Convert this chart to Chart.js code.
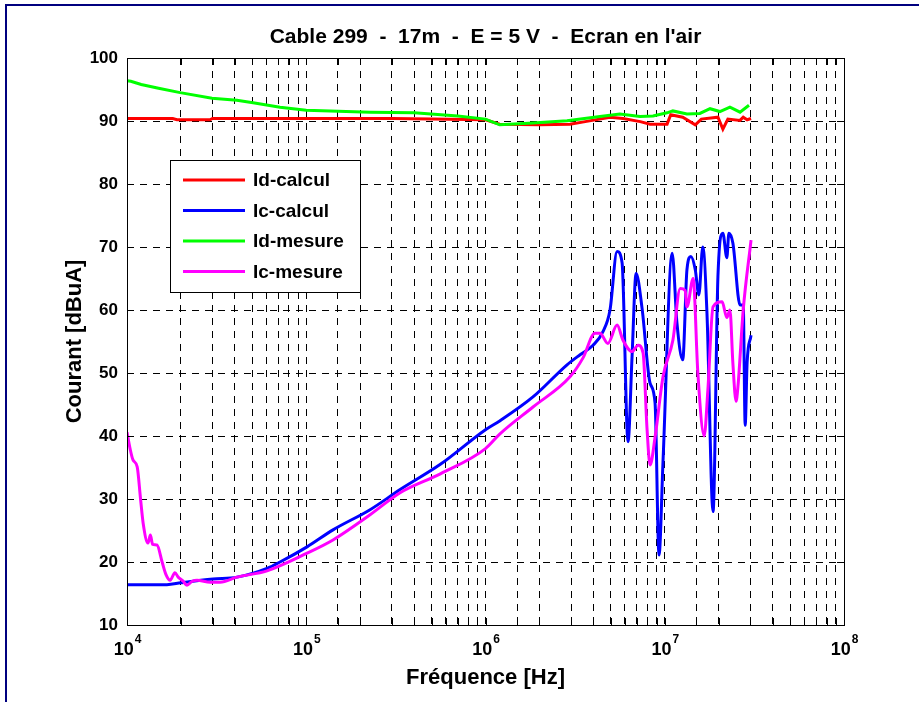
<!DOCTYPE html>
<html>
<head>
<meta charset="utf-8">
<script src="https://cdn.jsdelivr.net/npm/chart.js@4.4.1/dist/chart.umd.min.js"></script>
<style>
  html, body { margin: 0; padding: 0; background: #fff; }
  #wrap { position: relative; width: 919px; height: 702px; overflow: hidden; }
  #frame { position: absolute; left: 5px; top: 4px; right: -5px; bottom: -5px;
           border-left: 2px solid #00007f; border-top: 2px solid #00007f; pointer-events: none; }
  canvas { position: absolute; left: 0; top: 0; }
</style>
</head>
<body>
<div id="wrap">
  <canvas id="chart" width="919" height="702"></canvas>
  <div id="frame"></div>
</div>
<script>
// Données (fréquence en Hz, courant en dBuA)
const idCalculF = [1.0e4, 1.8e4, 1.9e4, 2.9e4, 3.0e4, 1.0e5, 3.0e5, 5.0e5, 1.0e6, 1.2e6,
                   2.0e6, 2.96e6, 3.6e6, 4.95e6, 5.85e6, 7.3e6, 8.28e6, 1.03e7, 1.08e7, 1.26e7,
                   1.48e7, 1.6e7, 1.98e7, 2.11e7, 2.25e7, 2.63e7, 2.74e7, 2.88e7, 3.03e7];
const idCalculV = [90.4, 90.4, 90.2, 90.2, 90.4, 90.4, 90.4, 90.3, 90.2, 89.5,
                   89.4, 89.5, 89.9, 90.6, 90.4, 89.9, 89.5, 89.5, 91.0, 90.6,
                   89.4, 90.3, 90.6, 88.7, 90.3, 90.1, 90.6, 90.2, 90.4];

const icCalculF = [1.0e4, 1.67e4, 2.0e4, 3.02e4, 4.11e4, 6.04e4, 7.14e4, 1.01e5, 1.41e5, 2.27e5,
                   3.34e5, 5.6e5, 1.0e6, 1.2e6, 1.84e6, 2.85e6, 3.37e6, 3.98e6, 4.53e6, 4.95e6,
                   5.42e6, 5.78e6, 6.24e6, 6.57e6, 6.92e6, 7.47e6, 8.28e6, 8.83e6, 9.29e6, 9.78e6,
                   1.10e7, 1.17e7, 1.26e7, 1.33e7, 1.40e7, 1.48e7, 1.55e7, 1.63e7, 1.72e7, 1.86e7,
                   1.98e7, 2.11e7, 2.22e7, 2.28e7, 2.40e7, 2.63e7, 2.74e7, 2.81e7, 2.88e7, 3.03e7];
const icCalculV = [16.4, 16.4, 16.7, 17.3, 17.6, 19.0, 20.0, 22.4, 25.1, 28.3,
                   31.5, 35.5, 41.0, 42.4, 46.2, 51.3, 52.9, 54.4, 56.6, 60.0,
                   69.3, 67.5, 39.1, 52.6, 65.8, 60.3, 48.4, 45.2, 21.1, 36.0,
                   69.0, 57.9, 52.1, 66.4, 68.5, 66.4, 62.4, 70.0, 59.5, 28.0,
                   65.3, 72.2, 68.3, 72.2, 70.6, 60.8, 60.8, 41.7, 51.6, 56.0];

const idMesureF = [1.0e4, 1.05e4, 1.2e4, 1.5e4, 1.98e4, 2.98e4, 4.1e4, 5.05e4, 7.14e4, 1.0e5,
                   2.27e5, 4.0e5, 7.0e5, 1.0e6, 1.2e6, 1.84e6, 2.85e6, 4.35e6, 5.62e6, 7.28e6,
                   8.6e6, 1.03e7, 1.11e7, 1.33e7, 1.57e7, 1.79e7, 2.03e7, 2.31e7, 2.63e7, 2.95e7];
const idMesureV = [96.4, 96.3, 95.8, 95.2, 94.5, 93.6, 93.3, 92.9, 92.2, 91.7,
                   91.4, 91.3, 90.8, 90.3, 89.4, 89.7, 90.05, 90.7, 91.1, 90.7,
                   90.8, 91.3, 91.6, 91.1, 91.2, 91.95, 91.5, 92.2, 91.4, 92.5];

const icMesureF = [1.0e4, 1.04e4, 1.08e4, 1.14e4, 1.19e4, 1.23e4, 1.31e4, 1.35e4, 1.39e4, 1.47e4,
                   1.57e4, 1.65e4, 1.74e4, 1.85e4, 1.93e4, 2.05e4, 2.16e4, 2.3e4, 2.46e4, 2.91e4,
                   3.31e4, 4.11e4, 6.04e4, 1.01e5, 1.41e5, 2.27e5, 3.34e5, 5.6e5, 1.0e6, 1.2e6,
                   1.84e6, 2.96e6, 3.5e6, 4.08e6, 4.35e6, 4.82e6, 5.42e6, 5.85e6, 6.57e6, 7.10e6,
                   7.57e6, 7.97e6, 8.28e6, 8.83e6, 9.78e6, 1.11e7, 1.22e7, 1.30e7, 1.33e7, 1.44e7,
                   1.53e7, 1.66e7, 1.74e7, 1.86e7, 2.09e7, 2.22e7, 2.31e7, 2.40e7, 2.50e7, 2.56e7,
                   2.74e7, 3.03e7];
const icMesureV = [40.6, 38.0, 36.2, 35.1, 30.0, 26.2, 23.0, 24.3, 22.8, 22.7,
                   20.0, 18.0, 17.1, 18.3, 17.6, 17.0, 16.3, 16.9, 17.1, 16.8,
                   16.8, 17.6, 18.6, 21.4, 23.5, 27.5, 31.0, 34.0, 38.0, 40.3,
                   44.6, 49.4, 52.4, 56.3, 56.3, 54.7, 57.6, 55.2, 53.4, 54.4,
                   53.2, 41.0, 35.4, 39.8, 49.4, 55.2, 63.4, 63.1, 60.5, 65.0,
                   50.0, 40.0, 47.3, 60.5, 61.3, 58.8, 60.0, 51.5, 45.5, 47.8,
                   60.0, 71.1];

const seriesLabels = ['Id-calcul', 'Ic-calcul', 'Id-mesure', 'Ic-mesure'];
const seriesColors = ['#ff0000', '#0000ff', '#00ff00', '#ff00ff'];
const xExponents = [4, 5, 6, 7, 8];
const yTicks = [10, 20, 30, 40, 50, 60, 70, 80, 90, 100];

const chartTitle = "Cable 299  -  17m  -  E = 5 V  -  Ecran en l'air";
const xTitle = 'Fréquence [Hz]';
const yTitle = 'Courant [dBuA]';

const FONT = '"Liberation Sans", Arial, sans-serif';

// Zone de tracé (pixels)
const AREA = { left: 127, top: 58, right: 844, bottom: 625 };

function toPoints(f, v) {
    return f.map((x, i) => ({ x: x, y: v[i] }));
}

// Légende, cadre, titres et graduations dessinés à la main
const decorPlugin = {
    id: 'decor',
    afterDraw(chart) {
        const ctx = chart.ctx;
        const a = chart.chartArea;
        const xs = chart.scales.x, ys = chart.scales.y;
        ctx.save();

        // petites graduations vers l'intérieur
        ctx.strokeStyle = '#000';
        ctx.lineWidth = 1;
        ctx.beginPath();
        xs.ticks.forEach(t => {
            const px = Math.round(xs.getPixelForValue(t.value)) + 0.5;
            ctx.moveTo(px, a.bottom); ctx.lineTo(px, a.bottom - 7);
            ctx.moveTo(px, a.top); ctx.lineTo(px, a.top + 7);
        });
        ys.ticks.forEach(t => {
            const py = Math.round(ys.getPixelForValue(t.value)) + 0.5;
            ctx.moveTo(a.left, py); ctx.lineTo(a.left + 7, py);
            ctx.moveTo(a.right, py); ctx.lineTo(a.right - 7, py);
        });
        ctx.stroke();

        // cadre
        ctx.strokeRect(Math.round(a.left) + 0.5, Math.round(a.top) + 0.5,
                       Math.round(a.right - a.left), Math.round(a.bottom - a.top));

        // étiquettes x en puissances de 10
        ctx.fillStyle = '#000';
        ctx.textBaseline = 'alphabetic';
        ctx.textAlign = 'left';
        xExponents.forEach(e => {
            const px = xs.getPixelForValue(Math.pow(10, e));
            ctx.font = 'bold 18px ' + FONT;
            const w10 = ctx.measureText('10').width;
            ctx.font = 'bold 12px ' + FONT;
            const we = ctx.measureText(String(e)).width;
            const x0 = px - (w10 + we) / 2;
            ctx.font = 'bold 18px ' + FONT;
            ctx.fillText('10', x0, 655);
            ctx.font = 'bold 12px ' + FONT;
            ctx.fillText(String(e), x0 + w10 + 1, 643);
        });

        // titres
        ctx.textAlign = 'center';
        ctx.font = 'bold 21px ' + FONT;
        ctx.fillText(chartTitle, (a.left + a.right) / 2, 43);
        ctx.font = 'bold 22px ' + FONT;
        ctx.fillText(xTitle, (a.left + a.right) / 2, 684);
        ctx.save();
        ctx.translate(81, (a.top + a.bottom) / 2);
        ctx.rotate(-Math.PI / 2);
        ctx.fillText(yTitle, 0, 0);
        ctx.restore();

        // légende
        const lx = 170.5, ly = 160.5, lw = 190, lh = 132;
        ctx.fillStyle = '#fff';
        ctx.fillRect(lx, ly, lw, lh);
        ctx.strokeStyle = '#000';
        ctx.lineWidth = 1;
        ctx.strokeRect(lx, ly, lw, lh);
        ctx.font = 'bold 19px ' + FONT;
        ctx.textAlign = 'left';
        ctx.textBaseline = 'middle';
        chart.data.datasets.forEach((ds, i) => {
            const ry = 180 + i * 30.5;
            ctx.strokeStyle = ds.borderColor;
            ctx.lineWidth = 3;
            ctx.beginPath();
            ctx.moveTo(183, ry);
            ctx.lineTo(245, ry);
            ctx.stroke();
            ctx.fillStyle = '#000';
            ctx.fillText(ds.label, 253, ry + 1);
        });
        ctx.restore();
    }
};

const ctx = document.getElementById('chart').getContext('2d');
const seriesData = [
    toPoints(idCalculF, idCalculV),
    toPoints(icCalculF, icCalculV),
    toPoints(idMesureF, idMesureV),
    toPoints(icMesureF, icMesureV)
];

const datasets = seriesData.map((pts, i) => ({
    label: seriesLabels[i],
    data: pts,
    borderColor: seriesColors[i],
    backgroundColor: seriesColors[i],
    borderWidth: 3,
    pointRadius: 0,
    fill: false,
    tension: 0,
    cubicInterpolationMode: (i % 2 === 1) ? 'monotone' : 'default',
    order: 3 - i
}));

new Chart(ctx, {
    type: 'line',
    data: { datasets: datasets },
    options: {
        responsive: false,
        animation: false,
        devicePixelRatio: 1,
        layout: {
            padding: { left: 0, top: AREA.top, right: 919 - AREA.right, bottom: 0 }
        },
        plugins: {
            legend: { display: false },
            title: { display: false },
            tooltip: { enabled: false }
        },
        scales: {
            x: {
                type: 'logarithmic',
                min: 1e4,
                max: 1e8,
                afterFit: s => { s.height = 702 - AREA.bottom; },
                ticks: { display: false, autoSkip: false },
                grid: {
                    drawTicks: false,
                    color: '#000',
                    lineWidth: 1
                },
                border: { display: false, dash: [7, 6] }
            },
            y: {
                min: 10,
                max: 100,
                afterFit: s => { s.width = AREA.left; },
                afterBuildTicks: s => { s.ticks = yTicks.map(v => ({ value: v })); },
                ticks: {
                    padding: 9,
                    color: '#000',
                    font: { family: FONT, size: 17, weight: 'bold' }
                },
                grid: {
                    drawTicks: false,
                    color: '#000',
                    lineWidth: 1
                },
                border: { display: false, dash: [7, 6] }
            }
        }
    },
    plugins: [decorPlugin]
});
</script>
</body>
</html>
